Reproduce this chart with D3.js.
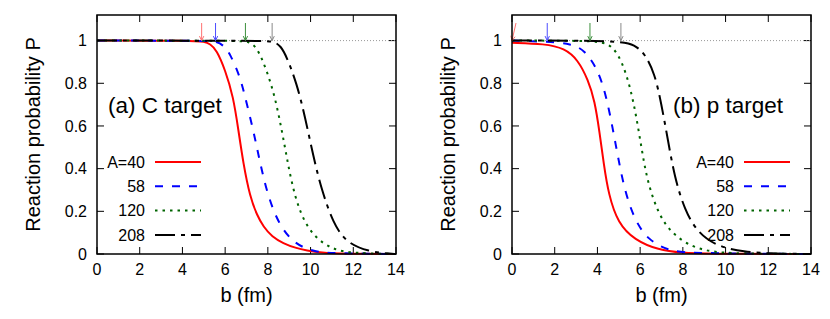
<!DOCTYPE html>
<html>
<head>
<meta charset="utf-8">
<script src="https://cdn.jsdelivr.net/npm/d3@7"></script>
<style>
  body { margin: 0; background: #fff; }
  text { font-family: "Liberation Sans", Arial, Helvetica, sans-serif; fill: #000; }
</style>
</head>
<body>
<svg width="830" height="319"></svg>
<script>
// ---- data ----
const xTicks = [0, 2, 4, 6, 8, 10, 12, 14];
const yTicks = [0, 0.2, 0.4, 0.6, 0.8, 1];
const legendLabels = ['A=40', '58', '120', '208'];

// (a) C target
const cB40  = [0, 4.6, 5.0, 5.3, 5.6, 6.0, 6.38, 6.62, 6.85, 7.16, 7.5, 7.79, 8.2, 8.72, 9.3, 9.82, 10.5, 11.5, 14];
const cP40  = [1, 1, 0.995, 0.985, 0.956, 0.863, 0.738, 0.581, 0.425, 0.269, 0.18, 0.128, 0.08, 0.05, 0.028, 0.016, 0.006, 0.001, 0];
const cB58  = [0, 5.2, 5.6, 5.9, 6.23, 6.7, 6.93, 7.24, 7.48, 7.71, 8.02, 8.49, 9.19, 10.13, 11, 14];
const cP58  = [1, 1, 0.995, 0.98, 0.94, 0.83, 0.738, 0.613, 0.503, 0.394, 0.269, 0.144, 0.05, 0.011, 0.003, 0];
const cB120 = [0, 6.7, 7.1, 7.48, 7.94, 8.33, 8.65, 8.88, 9.12, 9.5, 10.13, 11.06, 12, 14];
const cP120 = [1, 1, 0.995, 0.972, 0.863, 0.738, 0.581, 0.456, 0.331, 0.191, 0.081, 0.019, 0.004, 0];
const cB208 = [0, 7.9, 8.3, 8.6, 8.88, 9.35, 9.74, 10.13, 10.52, 11.06, 11.69, 12.78, 13.5, 14];
const cP208 = [1, 1, 0.995, 0.975, 0.925, 0.80, 0.644, 0.456, 0.30, 0.144, 0.05, 0.011, 0.003, 0];
const cArrows = [4.9, 5.55, 6.95, 8.2];

// (b) p target
const pB40  = [0, 1.53, 2.46, 3.09, 3.56, 3.87, 4.1, 4.3, 4.52, 4.96, 5.74, 6.84, 8, 9, 14];
const pP40  = [0.99, 0.985, 0.964, 0.91, 0.816, 0.72, 0.57, 0.42, 0.28, 0.144, 0.066, 0.019, 0.005, 0.001, 0];
const pB58  = [0, 1.7, 2.78, 3.4, 4.03, 4.42, 4.73, 4.96, 5.27, 5.74, 6.37, 7.3, 8.3, 14];
const pP58  = [1, 0.995, 0.985, 0.956, 0.863, 0.738, 0.581, 0.456, 0.30, 0.159, 0.066, 0.016, 0.003, 0];
const pB120 = [0, 3.6, 4.5, 4.96, 5.35, 5.67, 5.9, 6.13, 6.37, 6.84, 7.46, 8.4, 9.33, 10.5, 14];
const pP120 = [1, 1, 0.99, 0.94, 0.847, 0.722, 0.597, 0.456, 0.331, 0.191, 0.097, 0.034, 0.01, 0.002, 0];
const pB208 = [0, 5.1, 5.74, 6.21, 6.68, 6.99, 7.3, 7.61, 8.08, 8.71, 9.65, 10.89, 12, 14];
const pP208 = [1, 1, 0.98, 0.94, 0.847, 0.706, 0.534, 0.362, 0.206, 0.097, 0.034, 0.01, 0.002, 0];
const pArrows = [0, 1.65, 3.65, 5.1];

// ---- styles ----
const colors = ['#ff0000', '#0000ff', '#006400', '#000000'];
const arrowColors = ['#ff7070', '#4c4cff', '#3d8f3d', '#8a8a8a'];
const dashes = [null, '8,9', '2.5,5', '20,6,4,6'];

const svg = d3.select('svg');
const plotTop = 15, plotBottom = 254, plotW = 299;

const zip = (b, p) => b.map((v, i) => ({b: v, p: p[i]}));

function drawPanel(left, series, arrows, label, labelX, legendRight) {
  const x = d3.scaleLinear().domain([0, 14]).range([left, left + plotW]);
  const y = d3.scaleLinear().domain([0, 1.12]).range([plotBottom, plotTop]);
  const g = svg.append('g');

  // ticks, all four sides, pointing inward
  const tl = 7;
  xTicks.forEach(t => {
    g.append('line').attr('x1', x(t)).attr('x2', x(t)).attr('y1', plotBottom).attr('y2', plotBottom - tl)
      .attr('stroke', '#000');
    g.append('line').attr('x1', x(t)).attr('x2', x(t)).attr('y1', plotTop).attr('y2', plotTop + tl)
      .attr('stroke', '#000');
    g.append('text').attr('x', x(t)).attr('y', 275).attr('text-anchor', 'middle')
      .attr('font-size', '16px').text(t);
  });
  yTicks.forEach(t => {
    g.append('line').attr('x1', x(0)).attr('x2', x(0) + tl).attr('y1', y(t)).attr('y2', y(t))
      .attr('stroke', '#000');
    g.append('line').attr('x1', x(14)).attr('x2', x(14) - tl).attr('y1', y(t)).attr('y2', y(t))
      .attr('stroke', '#000');
    g.append('text').attr('x', x(0) - 10).attr('y', y(t)).attr('dy', '0.36em')
      .attr('text-anchor', 'end').attr('font-size', '16px').text(t);
  });

  // dotted reference at P = 1
  g.append('line').attr('x1', x(0)).attr('x2', x(14)).attr('y1', y(1)).attr('y2', y(1))
    .attr('stroke', '#999').attr('stroke-width', 1).attr('stroke-dasharray', '1,2');

  // smooth curves through the read-off points
  const line = d3.line().x(d => x(d.b)).y(d => y(d.p)).curve(d3.curveBasis);
  series.forEach((s, i) => {
    g.append('path').datum(s).attr('d', line).attr('fill', 'none')
      .attr('stroke', colors[i]).attr('stroke-width', 2)
      .attr('stroke-dasharray', dashes[i]);
  });

  // arrows marking the onset b
  arrows.forEach((a, i) => {
    const tipX = x(a), tipY = y(1);
    const tailX = a === 0 ? tipX + 4 : tipX, tailY = 23;
    g.append('line').attr('x1', tailX).attr('x2', tipX).attr('y1', tailY).attr('y2', tipY)
      .attr('stroke', arrowColors[i]).attr('stroke-width', 1);
    const ang = Math.atan2(tipY - tailY, tipX - tailX);
    const hl = 5, hw = 0.45;
    const p1 = [tipX - hl * Math.cos(ang - hw), tipY - hl * Math.sin(ang - hw)];
    const p2 = [tipX - hl * Math.cos(ang + hw), tipY - hl * Math.sin(ang + hw)];
    g.append('path').attr('d', `M${p1}L${tipX},${tipY}L${p2}`)
      .attr('fill', 'none').attr('stroke', arrowColors[i]).attr('stroke-width', 1);
  });

  // frame
  g.append('rect').attr('x', x(0)).attr('y', plotTop).attr('width', plotW).attr('height', plotBottom - plotTop)
    .attr('fill', 'none').attr('stroke', '#000').attr('stroke-width', 1.5);

  // axis titles
  g.append('text').attr('x', x(7)).attr('y', 301.5).attr('text-anchor', 'middle')
    .attr('font-size', '20px').text('b (fm)');
  g.append('text').attr('transform', `translate(${left - 57},${(plotTop + plotBottom) / 2}) rotate(-90)`)
    .attr('text-anchor', 'middle').attr('font-size', '20px').text('Reaction probability P');

  g.append('text').attr('x', labelX).attr('y', 113).attr('font-size', '22.5px').text(label);

  // legend
  legendLabels.forEach((l, i) => {
    const ly = 162 + i * 24.3;
    g.append('text').attr('x', legendRight).attr('y', ly).attr('dy', '0.36em')
      .attr('text-anchor', 'end').attr('font-size', '16px').text(l);
    g.append('line').attr('x1', legendRight + 10).attr('x2', legendRight + 56)
      .attr('y1', ly).attr('y2', ly)
      .attr('stroke', colors[i]).attr('stroke-width', 2).attr('stroke-dasharray', dashes[i]);
  });
}

drawPanel(97,
  [zip(cB40, cP40), zip(cB58, cP58), zip(cB120, cP120), zip(cB208, cP208)],
  cArrows, '(a) C target', 108, 145);
drawPanel(512,
  [zip(pB40, pP40), zip(pB58, pP58), zip(pB120, pP120), zip(pB208, pP208)],
  pArrows, '(b) p target', 673, 734);
</script>
</body>
</html>
